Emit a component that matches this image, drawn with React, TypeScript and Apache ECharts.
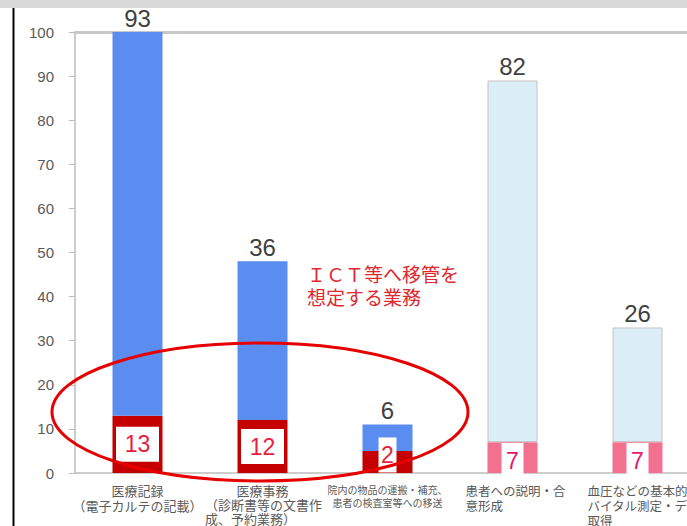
import React, { useEffect, useRef } from "react";
import * as echarts from "echarts";

const categories = [
  "医療記録（電子カルテの記載）",
  "医療事務（診断書等の文書作成、予約業務）",
  "院内の物品の運搬・補充、患者の検査室等への移送",
  "患者への説明・合意形成",
  "血圧などの基本的バイタル測定・データ取得",
];
const categoryLines = [
  ["医療記録", "（電子カルテの記載）"],
  ["医療事務", "（診断書等の文書作", "成、予約業務）"],
  ["院内の物品の運搬・補充、", "患者の検査室等への移送"],
  ["患者への説明・合", "意形成"],
  ["血圧などの基本的", "バイタル測定・データ", "取得"],
];
const lowerValues = [13, 12, 5, 7, 7];
const upperValues = [87, 36, 6, 82, 26];
const boxLabels = ["13", "12", "2", "7", "7"];
const topLabels = ["93", "36", "6", "82", "26"];
const ictTarget = [true, true, true, false, false];
const yTicks = { min: 0, max: 100, interval: 10 };
const annotation = "ＩＣＴ等へ移管を\n想定する業務";

const JP = "'Noto Sans CJK JP', sans-serif";
const NUM = "'Liberation Sans', Arial, sans-serif";

export default function App() {
  const ref = useRef<HTMLDivElement>(null);
  useEffect(() => {
    if (!ref.current) return;
    const chart = echarts.init(ref.current, null, { renderer: "svg" });

    const lowerData = lowerValues.map((v, i) => {
      const red = ictTarget[i];
      const narrow = i === 2;
      return {
        value: v,
        itemStyle: { color: red ? "#c40000" : "#f2718f" },
        label: {
          show: true,
          position: "inside",
          formatter: boxLabels[i],
          backgroundColor: "#ffffff",
          color: red ? "#e8203c" : "#e3186b",
          fontSize: 23,
          fontFamily: NUM,
          width: red ? (narrow ? 18 : 43) : 22,
          height: 35,
          lineHeight: 35,
          align: "center",
          offset: red ? (narrow ? [0, -7] : [0, 0]) : [0, 3],
        },
      };
    });

    const upperData = upperValues.map((v, i) => {
      const blue = ictTarget[i];
      return {
        value: v,
        itemStyle: blue
          ? { color: "#5b8cf0" }
          : { color: "#dbeef6", borderColor: "#c4c4c4", borderWidth: 1 },
      };
    });

    const rich: any = {
      a: { fontSize: 13, lineHeight: 15, color: "#595959", fontFamily: JP },
      b1: { fontSize: 13, lineHeight: 14, color: "#595959", fontFamily: JP, width: 115, align: "center" },
      b2: { fontSize: 13, lineHeight: 14, color: "#595959", fontFamily: JP, width: 115, align: "left" },
      c: { fontSize: 10, lineHeight: 13, color: "#595959", fontFamily: JP },
      d: { fontSize: 12.5, lineHeight: 15, color: "#595959", fontFamily: JP, width: 94, align: "left" },
      e: { fontSize: 12.5, lineHeight: 15, color: "#595959", fontFamily: JP, width: 100, align: "left" },
    };

    const fmt = (_v: string, idx: number) => {
      const lines = categoryLines[idx];
      if (idx === 0) return lines.map((l) => `{a|${l}}`).join("\n");
      if (idx === 1) return lines.map((l, k) => (k === 0 ? `{b1|${l}}` : `{b2|${l}}`)).join("\n");
      if (idx === 2) return lines.map((l) => `{c|${l}}`).join("\n");
      if (idx === 3) return lines.map((l) => `{d|${l}}`).join("\n");
      return lines.map((l) => `{e|${l}}`).join("\n");
    };

    chart.setOption({
      animation: false,
      backgroundColor: "#ffffff",
      grid: { left: 75, top: 32, right: 1, height: 441, containLabel: false, outerBoundsMode: "none" },
      xAxis: [
        {
          type: "category",
          data: categories,
          position: "bottom",
          axisLine: { show: true, lineStyle: { color: "#bdbdbd", width: 1.5 } },
          axisTick: { show: false },
          axisLabel: { interval: 0, margin: 10, formatter: fmt, rich },
        },
        {
          type: "category",
          data: categories,
          position: "top",
          axisLine: { show: true, lineStyle: { color: "#c8c8c8", width: 3 } },
          axisTick: { show: false },
          axisLabel: { show: false },
        },
      ],
      yAxis: {
        type: "value",
        min: yTicks.min,
        max: yTicks.max,
        interval: yTicks.interval,
        axisLine: { show: true, lineStyle: { color: "#bdbdbd", width: 1.5 } },
        axisTick: { show: true, length: 6, lineStyle: { color: "#bdbdbd" } },
        splitLine: { show: false },
        axisLabel: { margin: 21, fontSize: 15, color: "#595959", fontFamily: NUM },
      },
      series: [
        { type: "bar", stack: "total", barWidth: 50, data: lowerData, z: 2 },
        {
          type: "bar",
          stack: "total",
          barWidth: 50,
          data: upperData,
          label: {
            show: true,
            position: "top",
            distance: 2,
            formatter: (p: any) => topLabels[p.dataIndex],
            fontSize: 24,
            color: "#404040",
            fontFamily: NUM,
          },
          z: 2,
        },
      ],
      graphic: [
        { type: "rect", shape: { x: 0, y: 0, width: 701, height: 8 }, style: { fill: "#d9d9d9" }, z: 100 },
        { type: "line", shape: { x1: 13.5, y1: 8, x2: 13.5, y2: 526 }, style: { stroke: "#000000", lineWidth: 2 }, z: 100 },
        { type: "ellipse", shape: { cx: 260, cy: 412, rx: 208, ry: 69 }, style: { fill: "none", stroke: "#e60000", lineWidth: 3 }, z: 100 },
        { type: "text", x: 307, y: 262, style: { text: annotation, fontSize: 19, lineHeight: 23, fill: "#e0282e", fontFamily: JP }, z: 100 },
      ],
    });
    return () => chart.dispose();
  }, []);
  return (
    <div style={{ position: "absolute", left: 0, top: 0, width: 687, height: 526, overflow: "hidden" }}>
      <div ref={ref} style={{ width: 701, height: 526 }} />
    </div>
  );
}
